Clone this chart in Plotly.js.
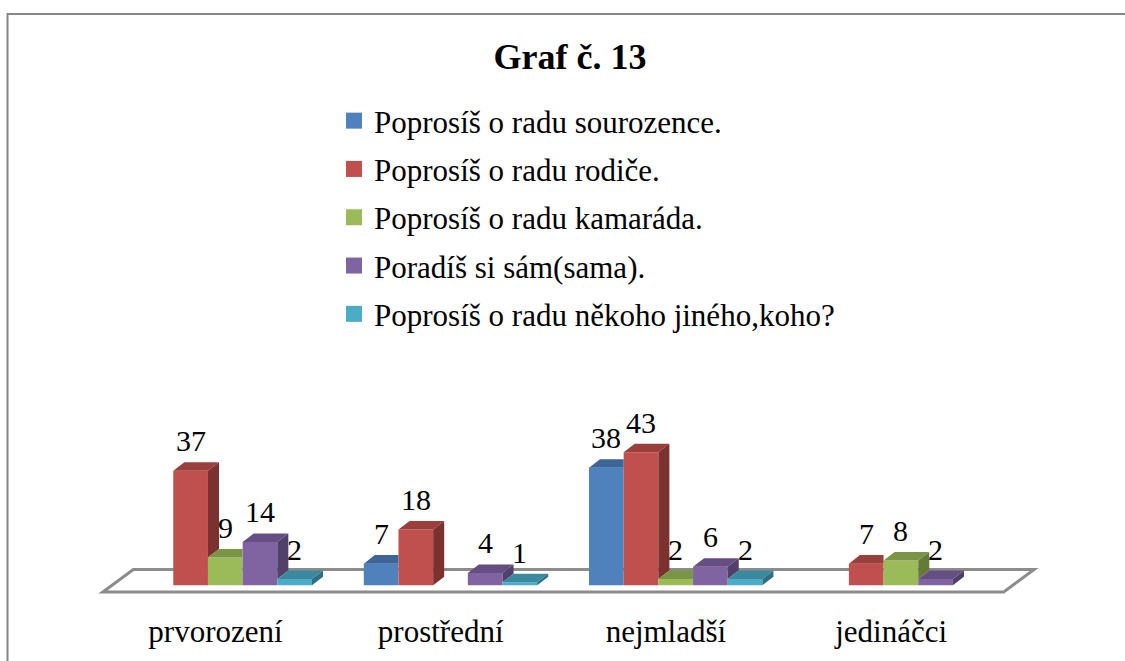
<!DOCTYPE html>
<html>
<head>
<meta charset="utf-8">
<script src="https://cdn.plot.ly/plotly-3.0.1.min.js"></script>
<style>
  html, body { margin: 0; padding: 0; background: #ffffff; overflow: hidden; }
  #chart { width: 1125px; height: 661px; }
</style>
</head>
<body>
<div id="chart"></div>
<script>
// ---- data ----
const categories = ['prvorození', 'prostřední', 'nejmladší', 'jedináčci'];
const seriesNames = [
  'Poprosíš o radu sourozence.',
  'Poprosíš o radu rodiče.',
  'Poprosíš o radu kamaráda.',
  'Poradíš si sám(sama).',
  'Poprosíš o radu někoho jiného,koho?'
];
const sourozence = [0, 7, 38, 0];
const rodice     = [37, 18, 43, 7];
const kamarada   = [9, 0, 2, 8];
const sam        = [14, 4, 6, 2];
const jiny       = [2, 1, 2, 0];
const seriesValues = [sourozence, rodice, kamarada, sam, jiny];

// ---- styling ----
const frontColors = ['#4F81BD', '#C0504D', '#9BBB59', '#8064A2', '#4BACC6'];
const topColors   = ['#3D6597', '#9A3F3C', '#7B9546', '#654F82', '#3A899F'];
const sideColors  = ['#33557F', '#7B312F', '#647A38', '#51406A', '#2E7083'];
const FONT = 'Liberation Serif, Times New Roman, serif';

const barW = 0.154;        // bar width in category units
const groupShift = 0.0435; // group centre offset from tick
const dx = 0.049;          // 3D depth, x (category units)
const dy = 2.75;           // 3D depth, y (value units)

const xIdx = categories.map((c, i) => i);
const traces = [];
const annotations = [];
const nS = seriesValues.length;

seriesValues.forEach((vals, k) => {
  const off = groupShift + (k - nS / 2) * barW;
  traces.push({
    type: 'bar',
    x: xIdx,
    y: vals,
    width: barW,
    offset: off,
    marker: { color: frontColors[k], line: { width: 0 } },
    name: seriesNames[k],
    showlegend: false,
    hovertemplate: '%{y}<extra>' + seriesNames[k] + '</extra>'
  });
  const topX = [], topY = [], sideX = [], sideY = [];
  vals.forEach((v, i) => {
    if (!(v > 0)) return;
    const x0 = i + off, x1 = x0 + barW;
    const vn = k + 1 < nS ? seriesValues[k + 1][i] : 0;
    // top face
    const xr = vn > v ? x1 : x1 + dx;
    topX.push(x0, x0 + dx, xr, x1, x0, null);
    topY.push(v, v + dy, v + dy, v, v, null);
    // side face (only part not hidden by next bar)
    if (vn < v) {
      const b = Math.max(vn, 0);
      sideX.push(x1, x1, x1 + dx, x1 + dx, x1, null);
      sideY.push(b, v, v + dy, b + dy, b, null);
    }
    annotations.push({
      x: x0 + barW / 2, y: v + dy, xref: 'x', yref: 'y',
      text: String(v), showarrow: false, yanchor: 'bottom', yshift: 3,
      font: { family: FONT, size: 30, color: '#000000' }
    });
  });
  traces.push({
    type: 'scatter', x: topX, y: topY, mode: 'lines', fill: 'toself',
    fillcolor: topColors[k], line: { width: 0, color: topColors[k] },
    showlegend: false, hoverinfo: 'skip'
  });
  traces.push({
    type: 'scatter', x: sideX, y: sideY, mode: 'lines', fill: 'toself',
    fillcolor: sideColors[k], line: { width: 0, color: sideColors[k] },
    showlegend: false, hoverinfo: 'skip'
  });
});

// legend entries
seriesNames.forEach((n, k) => {
  traces.push({
    type: 'scatter', x: [null], y: [null], mode: 'markers', name: n,
    legendgroup: 'g' + k,
    marker: { symbol: 'square', size: 16, color: frontColors[k] },
    hoverinfo: 'skip'
  });
});

const nC = categories.length;
const floorFront = -2.16, floorBack = 5.1, floorDepth = 0.135;
const floorPath = 'M ' + (-0.5) + ',' + floorFront +
  ' L ' + (-0.5 + floorDepth) + ',' + floorBack +
  ' L ' + (nC - 0.5 + floorDepth) + ',' + floorBack +
  ' L ' + (nC - 0.5) + ',' + floorFront + ' Z';

const layout = {
  width: 1125, height: 661,
  margin: { l: 0, r: 0, t: 0, b: 61 },
  paper_bgcolor: '#ffffff', plot_bgcolor: 'rgba(0,0,0,0)',
  barmode: 'overlay',
  title: {
    text: 'Graf č. 13',
    font: { family: FONT, size: 36, color: '#000000', weight: 'bold' },
    x: 570 / 1125, xanchor: 'center',
    y: 1 - 56 / 661, yanchor: 'middle', yref: 'container'
  },
  xaxis: {
    range: [-215.5 / 225.2, (1125 - 215.5) / 225.2],
    tickvals: xIdx, ticktext: categories,
    tickfont: { family: FONT, size: 31, color: '#000000' },
    ticks: 'outside', ticklen: 4, tickcolor: 'rgba(0,0,0,0)',
    showgrid: false, zeroline: false, showline: false, fixedrange: true
  },
  yaxis: {
    range: [(585.3 - 600) / 3.095, 585.3 / 3.095],
    showticklabels: false, showgrid: false, zeroline: false, showline: false,
    fixedrange: true
  },
  legend: {
    x: 334 / 1125, xanchor: 'left', y: 1 - 94 / 600, yanchor: 'top',
    font: { family: FONT, size: 31, color: '#000000' },
    traceorder: 'grouped', tracegroupgap: 5,
    bgcolor: 'rgba(0,0,0,0)'
  },
  shapes: [
    {
      type: 'path', xref: 'x', yref: 'y', path: floorPath, layer: 'below',
      line: { color: '#8C8C8C', width: 3 }, fillcolor: '#ffffff'
    },
    {
      type: 'rect', xref: 'paper', yref: 'paper', layer: 'below',
      x0: 7.5 / 1125, x1: 1.05, y0: 1 - 14 / 600, y1: -0.2,
      line: { color: '#868686', width: 2 }
    }
  ],
  annotations: annotations,
  showlegend: true
};

Plotly.newPlot('chart', traces, layout, { displayModeBar: false, staticPlot: false });
</script>
</body>
</html>
